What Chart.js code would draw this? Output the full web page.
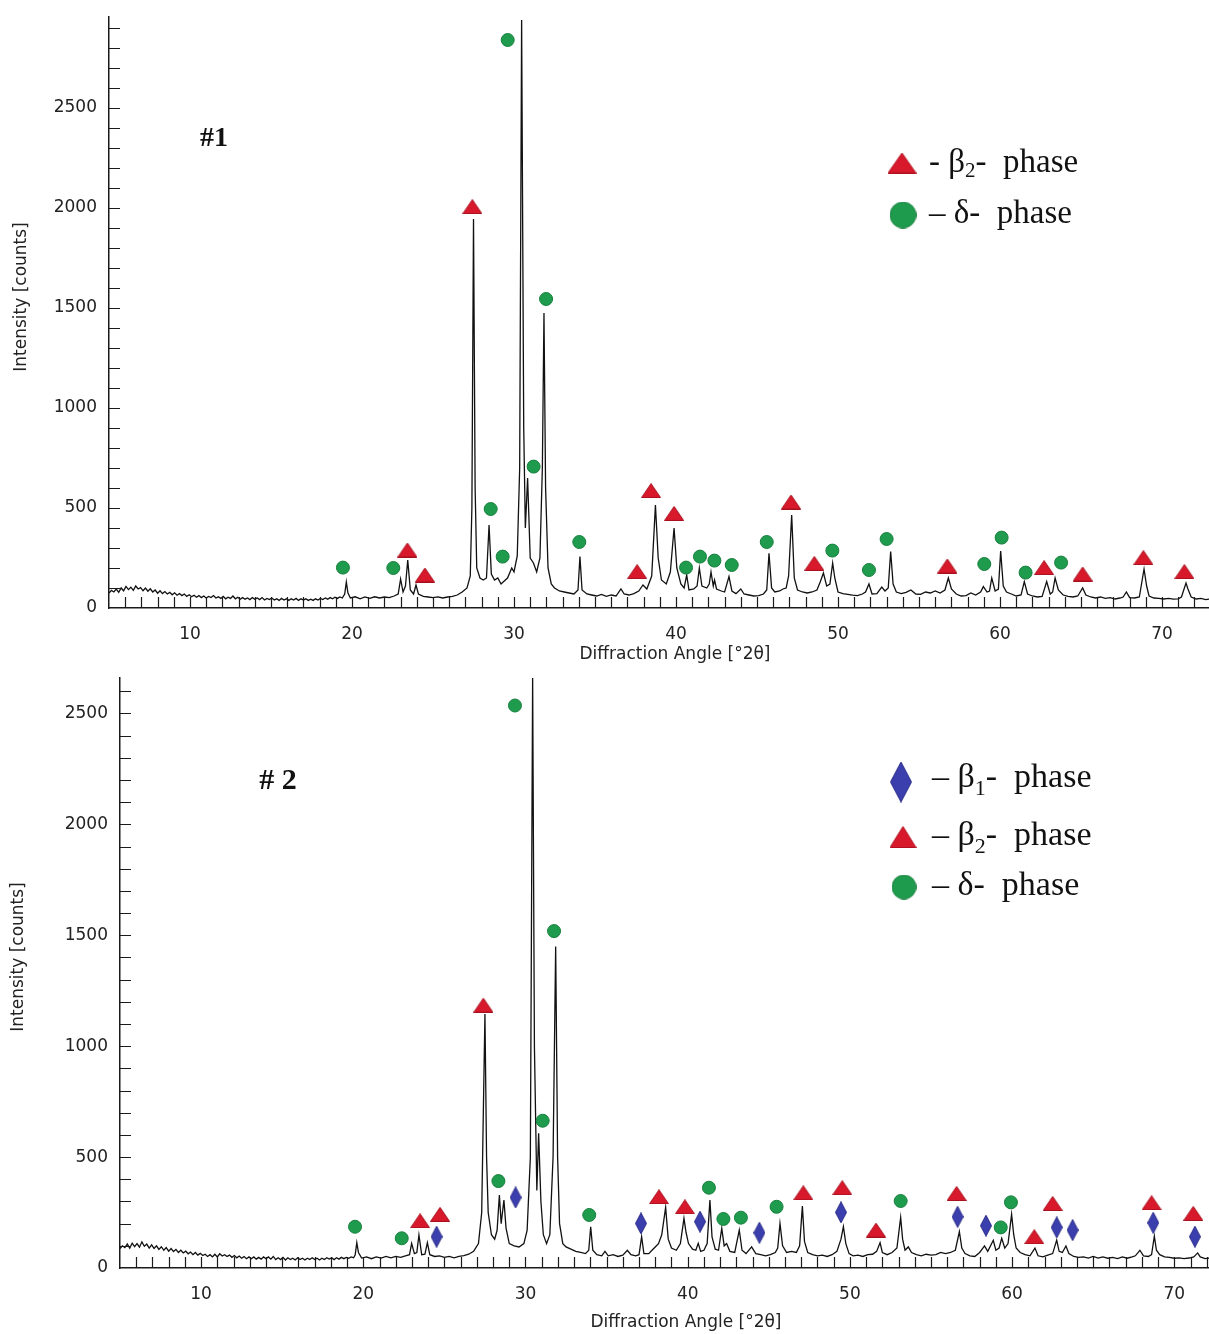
<!DOCTYPE html>
<html>
<head>
<meta charset="utf-8">
<script src="https://cdn.jsdelivr.net/npm/chart.js@4.4.1/dist/chart.umd.min.js"></script>
<style>
  body { margin: 0; background: #fff; }
  canvas { display: block; }
</style>
</head>
<body>
<canvas id="xrd1" width="1209" height="667" style="width:1209px;height:667px"></canvas>
<canvas id="xrd2" width="1209" height="667" style="width:1209px;height:667px"></canvas>
<script>
// ---- data ----
var xTickLabels = [10, 20, 30, 40, 50, 60, 70];
var yTickLabels = [0, 500, 1000, 1500, 2000, 2500];
var xTitle = 'Diffraction Angle [°2θ]';
var yTitle = 'Intensity [counts]';

// sample #1 pattern
var angle1 = [
  5.0, 5.15, 5.3, 5.45, 5.6, 5.75, 5.9, 6.05, 6.2, 6.35,
  6.5, 6.65, 6.8, 6.95, 7.1, 7.25, 7.4, 7.55, 7.7, 7.85,
  8.0, 8.15, 8.3, 8.45, 8.6, 8.75, 8.9, 9.05, 9.2, 9.35,
  9.5, 9.65, 9.8, 9.95, 10.1, 10.25, 10.4, 10.55, 10.7, 10.85,
  11.0, 11.15, 11.3, 11.45, 11.6, 11.75, 11.9, 12.05, 12.2, 12.35,
  12.5, 12.65, 12.8, 12.95, 13.1, 13.25, 13.4, 13.55, 13.7, 13.85,
  14.0, 14.15, 14.3, 14.45, 14.6, 14.75, 14.9, 15.05, 15.2, 15.35,
  15.5, 15.65, 15.8, 15.95, 16.1, 16.25, 16.4, 16.55, 16.7, 16.85,
  17.0, 17.15, 17.3, 17.45, 17.6, 17.75, 17.9, 18.05, 18.2, 18.35,
  18.5, 18.65, 18.8, 18.95, 19.1, 19.25, 19.4, 19.55,
  19.65, 19.75, 19.9, 20.2, 20.5, 20.8, 21.1, 21.4, 21.7, 22.0,
  22.3, 22.6, 22.85, 23.0, 23.15, 23.3, 23.44, 23.6, 23.8, 23.95,
  24.1, 24.4, 24.7, 25.0, 25.3, 25.6, 25.9, 26.2, 26.5, 26.8,
  27.1, 27.3, 27.4, 27.5, 27.6, 27.7, 27.9, 28.1, 28.3, 28.46,
  28.6, 28.8, 29.0, 29.2, 29.4, 29.6, 29.86, 30.0, 30.2, 30.35,
  30.47, 30.6, 30.7, 30.84, 31.0, 31.2, 31.4, 31.6, 31.75, 31.85,
  31.95, 32.1, 32.3, 32.5, 32.8, 33.1, 33.4, 33.7, 33.95, 34.07,
  34.2, 34.5, 34.8, 35.1, 35.4, 35.7, 36.0, 36.3, 36.6, 36.8,
  37.1, 37.4, 37.7, 37.96, 38.2, 38.5, 38.73, 38.9, 39.1, 39.4,
  39.65, 39.88, 40.05, 40.3, 40.5, 40.66, 40.8, 41.1, 41.3, 41.44,
  41.6, 41.9, 42.05, 42.16, 42.3, 42.38, 42.5, 42.8, 43.0, 43.27,
  43.45, 43.7, 44.0, 44.2, 44.5, 44.8, 45.1, 45.4, 45.6, 45.74,
  45.9, 46.1, 46.4, 46.6, 46.8, 46.95, 47.14, 47.3, 47.5, 47.8,
  48.1, 48.4, 48.7, 48.9, 49.1, 49.3, 49.5, 49.67, 49.8, 50.0,
  50.3, 50.6, 50.9, 51.2, 51.5, 51.7, 51.91, 52.1, 52.4, 52.7,
  52.9, 53.1, 53.25, 53.4, 53.6, 53.9, 54.2, 54.5, 54.8, 55.1,
  55.4, 55.7, 56.0, 56.3, 56.6, 56.81, 57.0, 57.3, 57.6, 57.9,
  58.2, 58.5, 58.8, 58.97, 59.2, 59.35, 59.49, 59.7, 59.9, 60.04,
  60.2, 60.4, 60.7, 61.0, 61.3, 61.5, 61.7, 62.0, 62.3, 62.6,
  62.88, 63.1, 63.25, 63.4, 63.6, 63.9, 64.2, 64.5, 64.8, 65.1,
  65.3, 65.6, 65.9, 66.2, 66.5, 66.8, 67.1, 67.4, 67.6, 67.8,
  68.0, 68.3, 68.6, 68.89, 69.05, 69.2, 69.5, 69.8, 70.1, 70.4,
  70.7, 71.0, 71.2, 71.48, 71.6, 71.8, 72.1, 72.4, 72.7, 73.0
];
var counts1 = [
  75, 88, 80, 95, 78, 100, 86, 108, 92, 104,
  88, 110, 95, 102, 86, 100, 84, 96, 80, 90,
  74, 86, 72, 82, 70, 78, 66, 76, 64, 72,
  62, 70, 58, 66, 56, 64, 54, 62, 52, 60,
  50, 58, 52, 62, 50, 56, 48, 58, 46, 54,
  48, 60, 46, 54, 44, 52, 44, 50, 42, 52,
  44, 50, 42, 52, 40, 48, 42, 50, 40, 46,
  38, 48, 40, 46, 38, 46, 40, 48, 38, 46,
  40, 46, 38, 44, 38, 46, 40, 48, 42, 50,
  44, 52, 46, 54, 48, 55, 50, 70,
  130, 75, 50, 56, 46, 55, 48, 56, 50, 55,
  52, 60, 70, 145, 80, 110, 240, 90, 70, 115,
  70, 58, 55, 52, 56, 50, 55, 58, 65, 80,
  100, 160, 500, 1945, 600, 200, 150, 140, 150, 415,
  170, 140, 150, 120, 135, 150, 200, 180, 260, 700,
  2940, 900, 400, 650, 250, 225, 180, 250, 700, 1475,
  600, 200, 120, 100, 85, 80, 75, 70, 90, 257,
  90, 70, 65, 60, 68, 58, 65, 60, 95, 70,
  65, 72, 85, 115, 95, 160, 515, 250, 140, 120,
  180, 400, 200, 120, 100, 165, 90, 95, 110, 200,
  110, 100, 120, 180, 110, 140, 95, 85, 80, 157,
  85, 72, 95, 70, 65, 60, 62, 70, 90, 273,
  100, 80, 85, 95, 100, 160, 465, 150, 90, 80,
  75, 80, 90, 130, 175, 110, 120, 225, 150, 80,
  72, 68, 64, 62, 70, 80, 120, 70, 72, 105,
  85, 100, 282, 120, 80, 72, 78, 90, 70, 68,
  80, 75, 85, 75, 90, 150, 95, 70, 60, 62,
  75, 65, 80, 107, 80, 85, 150, 85, 95, 285,
  110, 80, 70, 60, 65, 132, 70, 60, 55, 58,
  132, 70, 80, 150, 90, 65, 58, 55, 60, 100,
  65, 55, 50, 55, 48, 52, 45, 50, 55, 80,
  52, 50, 55, 195, 110, 60, 50, 48, 45, 48,
  44, 46, 55, 125, 95, 55, 45, 48, 42, 45
];
var delta1Angle = [19.44, 22.55, 28.56, 29.3, 29.61, 31.21, 31.98, 34.03, 40.62, 41.48, 42.37, 43.44, 45.6, 49.65, 51.91, 53.0, 59.03, 60.1, 61.58, 63.77];
var delta1Counts = [202, 200, 495, 257, 2840, 707, 1545, 330, 202, 257, 237, 215, 330, 287, 190, 345, 220, 352, 177, 227];
var beta2s1Angle = [23.42, 24.5, 27.43, 37.6, 38.46, 39.88, 47.1, 48.54, 56.75, 62.72, 65.1, 68.85, 71.38];
var beta2s1Counts = [290, 165, 2007, 182, 587, 473, 530, 223, 210, 202, 170, 252, 182];

// sample #2 pattern
var angle2 = [
  5.0, 5.15, 5.3, 5.45, 5.6, 5.75, 5.9, 6.05, 6.2, 6.35,
  6.5, 6.65, 6.8, 6.95, 7.1, 7.25, 7.4, 7.55, 7.7, 7.85,
  8.0, 8.15, 8.3, 8.45, 8.6, 8.75, 8.9, 9.05, 9.2, 9.35,
  9.5, 9.65, 9.8, 9.95, 10.1, 10.25, 10.4, 10.55, 10.7, 10.85,
  11.0, 11.15, 11.3, 11.45, 11.6, 11.75, 11.9, 12.05, 12.2, 12.35,
  12.5, 12.65, 12.8, 12.95, 13.1, 13.25, 13.4, 13.55, 13.7, 13.85,
  14.0, 14.15, 14.3, 14.45, 14.6, 14.75, 14.9, 15.05, 15.2, 15.35,
  15.5, 15.65, 15.8, 15.95, 16.1, 16.25, 16.4, 16.55, 16.7, 16.85,
  17.0, 17.15, 17.3, 17.45, 17.6, 17.75, 17.9, 18.05, 18.2, 18.35,
  18.5, 18.65, 18.8, 18.95, 19.1, 19.25, 19.4, 19.5,
  19.6, 19.7, 19.9, 20.2, 20.5, 20.8, 21.1, 21.4, 21.7, 22.0,
  22.3, 22.6, 22.85, 22.98, 23.15, 23.3, 23.43, 23.6, 23.8, 23.95,
  24.1, 24.4, 24.7, 25.0, 25.3, 25.6, 25.9, 26.2, 26.5, 26.8,
  27.1, 27.3, 27.4, 27.5, 27.6, 27.7, 27.9, 28.1, 28.25, 28.39,
  28.5, 28.67, 28.8, 29.0, 29.3, 29.6, 29.9, 30.1, 30.3, 30.44,
  30.55, 30.7, 30.81, 30.95, 31.1, 31.3, 31.5, 31.7, 31.86, 31.98,
  32.1, 32.3, 32.5, 32.8, 33.1, 33.4, 33.7, 33.9, 34.02, 34.15,
  34.4, 34.7, 34.9, 35.1, 35.4, 35.7, 36.0, 36.28, 36.5, 36.8,
  37.0, 37.16, 37.3, 37.6, 37.8, 38.0, 38.2, 38.4, 38.64, 38.8,
  39.0, 39.3, 39.55, 39.77, 39.9, 40.05, 40.3, 40.5, 40.65, 40.8,
  41.0, 41.2, 41.37, 41.5, 41.7, 41.9, 42.1, 42.25, 42.4, 42.6,
  42.9, 43.18, 43.35, 43.6, 43.94, 44.2, 44.5, 44.8, 45.1, 45.4,
  45.55, 45.69, 45.85, 46.1, 46.4, 46.7, 46.9, 47.07, 47.2, 47.4,
  47.7, 48.0, 48.3, 48.6, 48.9, 49.2, 49.45, 49.6, 49.75, 49.95,
  50.2, 50.5, 50.8, 51.1, 51.4, 51.65, 51.86, 52.0, 52.3, 52.6,
  52.9, 53.13, 53.25, 53.4, 53.6, 53.8, 54.1, 54.4, 54.7, 55.0,
  55.3, 55.6, 55.9, 56.2, 56.5, 56.75, 56.9, 57.1, 57.4, 57.7,
  58.0, 58.3, 58.5, 58.84, 59.0, 59.2, 59.36, 59.55, 59.75, 59.97,
  60.1, 60.25, 60.5, 60.8, 61.1, 61.41, 61.6, 61.9, 62.2, 62.5,
  62.75, 62.9, 63.1, 63.32, 63.5, 63.8, 64.1, 64.4, 64.7, 65.0,
  65.3, 65.6, 65.9, 66.2, 66.5, 66.8, 67.1, 67.4, 67.6, 67.88,
  68.1, 68.4, 68.6, 68.77, 68.9, 69.1, 69.4, 69.7, 70.0, 70.3,
  70.6, 70.9, 71.2, 71.44, 71.6, 71.9, 72.2, 72.5
];
var counts2 = [
  88, 100, 92, 108, 90, 112, 96, 110, 94, 118,
  98, 108, 90, 104, 88, 100, 84, 96, 80, 92,
  76, 88, 74, 84, 70, 80, 68, 76, 64, 72,
  60, 70, 58, 66, 56, 62, 52, 60, 50, 62,
  50, 64, 54, 60, 52, 58, 48, 56, 46, 54,
  44, 52, 42, 50, 42, 50, 40, 48, 40, 50,
  42, 50, 40, 52, 38, 46, 38, 48, 36, 46,
  38, 44, 36, 46, 38, 44, 36, 44, 38, 46,
  38, 44, 36, 44, 38, 46, 40, 46, 38, 46,
  40, 48, 42, 48, 44, 50, 46, 60,
  114, 70, 45, 50, 42, 50, 45, 52, 46, 52,
  48, 55, 60, 111, 65, 70, 149, 60, 62, 114,
  60, 52, 55, 48, 52, 46, 52, 56, 62, 75,
  110, 250, 700, 1145, 500, 250, 150, 130, 170, 329,
  200, 306, 180, 110, 100, 95, 110, 170, 500, 2660,
  1000, 350, 607, 300, 150, 110, 150, 500, 1450, 500,
  200, 110, 95, 85, 75, 70, 65, 80, 186, 80,
  60, 55, 75, 55, 60, 52, 58, 80, 60, 55,
  60, 141, 65, 65, 80, 95, 110, 150, 273, 130,
  90, 80, 110, 224, 160, 110, 85, 80, 111, 75,
  80, 110, 306, 140, 85, 80, 179, 100, 110, 75,
  70, 171, 80, 65, 95, 65, 60, 55, 60, 70,
  90, 201, 100, 70, 75, 70, 100, 279, 120, 70,
  60, 55, 58, 52, 60, 75, 130, 186, 110, 65,
  55, 58, 52, 60, 62, 75, 114, 70, 60, 70,
  90, 228, 130, 80, 95, 70, 60, 55, 62, 58,
  60, 70, 65, 70, 80, 164, 90, 65, 55, 52,
  70, 100, 75, 125, 80, 90, 134, 90, 110, 242,
  150, 90, 70, 60, 55, 90, 55, 50, 58, 65,
  126, 75, 70, 99, 65, 52, 48, 50, 45, 52,
  45, 50, 44, 48, 42, 50, 44, 50, 55, 80,
  55, 52, 60, 144, 80, 60, 50, 48, 44, 46,
  42, 45, 50, 68, 50, 42, 45, 40
];
var delta2Angle = [19.49, 22.37, 28.33, 29.35, 31.06, 31.76, 33.93, 41.31, 42.2, 43.28, 45.48, 53.13, 59.3, 59.93];
var delta2Counts = [186, 134, 392, 2536, 664, 1519, 239, 362, 221, 227, 276, 302, 183, 296];
var beta2s2Angle = [23.5, 24.73, 27.4, 38.23, 39.83, 47.13, 49.53, 51.61, 56.58, 61.37, 62.5, 68.6, 71.17];
var beta2s2Counts = [213, 242, 1185, 321, 276, 339, 362, 171, 336, 141, 291, 294, 246];
var beta1s2Angle = [24.52, 29.39, 37.12, 40.76, 44.42, 49.45, 56.64, 58.39, 62.75, 63.73, 68.7, 71.27];
var beta1s2Counts = [141, 318, 201, 209, 159, 251, 231, 191, 183, 171, 204, 141];

// ---- colours / marker shapes ----
var RED = '#d8192c', GREEN = '#1f9b4d', BLUE = '#3b3fae';

function pts(xs, ys) {
  return xs.map(function (x, i) { return { x: x, y: ys[i] }; });
}

function marker(kind, w, h, fill, edge) {
  var c = document.createElement('canvas');
  c.width = w; c.height = h;
  var g = c.getContext('2d');
  g.fillStyle = fill;
  g.strokeStyle = edge;
  g.lineWidth = 1;
  g.beginPath();
  if (kind == 'tri') {
    g.moveTo(w / 2, 0.5); g.lineTo(w - 0.5, h - 0.5); g.lineTo(0.5, h - 0.5);
  } else if (kind == 'dia') {
    g.moveTo(w / 2, 0.5); g.lineTo(w - 0.5, h / 2); g.lineTo(w / 2, h - 0.5); g.lineTo(0.5, h / 2);
  } else {
    g.arc(w / 2, h / 2, w / 2 - 0.5, 0, Math.PI * 2);
  }
  g.closePath();
  g.fill();
  g.stroke();
  return c;
}

var triSmall = marker('tri', 20, 15, RED, '#a8101e');
var diaSmall = marker('dia', 12, 22, BLUE, '#2a2d88');

// inside tick marks, axis titles, legend and sample tag
var decor = {
  id: 'decor',
  afterDraw: function (chart, args, o) {
    var ctx = chart.ctx, ca = chart.chartArea;
    var xs = chart.scales.x, ys = chart.scales.y;
    ctx.save();
    ctx.strokeStyle = '#1a1a1a';
    ctx.lineWidth = 1.2;
    ctx.beginPath();
    for (var v = 100; v <= ys.max; v += 100) {
      var py = Math.round(ys.getPixelForValue(v)) + 0.5;
      ctx.moveTo(ca.left, py);
      ctx.lineTo(ca.left + 11, py);
    }
    for (var a = 6; a <= xs.max; a += 1) {
      var px = Math.round(xs.getPixelForValue(a)) + 0.5;
      ctx.moveTo(px, ca.bottom);
      ctx.lineTo(px, ca.bottom - 11);
    }
    ctx.stroke();

    // axis titles
    ctx.fillStyle = '#222';
    ctx.font = '17px "DejaVu Sans"';
    ctx.textAlign = 'center';
    ctx.textBaseline = 'middle';
    ctx.fillText(xTitle, o.xTitleX, o.xTitleY);
    ctx.save();
    ctx.translate(o.yTitleX, o.yTitleY);
    ctx.rotate(-Math.PI / 2);
    ctx.fillText(yTitle, 0, 0);
    ctx.restore();

    ctx.fillStyle = '#111';
    ctx.font = 'bold ' + o.tagSize + 'px "Liberation Serif"';
    ctx.fillText(o.tag, o.tagX, o.tagY);

    ctx.textAlign = 'left';
    ctx.textBaseline = 'alphabetic';
    o.legend.forEach(function (row) {
      ctx.drawImage(row.img, row.mx - row.img.width / 2, row.my - row.img.height / 2);
      var x = o.legendX;
      ctx.font = o.legendSize + 'px "Liberation Serif"';
      ctx.fillText(row.head, x, row.base);
      x += ctx.measureText(row.head).width;
      if (row.sub) {
        ctx.font = Math.round(o.legendSize * 0.64) + 'px "Liberation Serif"';
        ctx.fillText(row.sub, x, row.base + o.subDrop);
        x += ctx.measureText(row.sub).width;
        ctx.font = o.legendSize + 'px "Liberation Serif"';
      }
      ctx.fillText(row.tail, x, row.base);
    });
    ctx.restore();
  }
};

function plain(v) { return String(v); }

function panel(id, p) {
  var sets = [{
    data: pts(p.angle, p.counts),
    showLine: true,
    borderColor: '#111',
    borderWidth: 1.3,
    pointRadius: 0,
    tension: 0,
    order: 1
  }];
  p.markers.forEach(function (m) {
    sets.push({
      data: pts(m.angle, m.counts),
      showLine: false,
      pointStyle: m.style,
      pointRadius: m.r,
      backgroundColor: m.fill,
      borderColor: m.edge,
      borderWidth: 1,
      order: 0
    });
  });

  return new Chart(document.getElementById(id), {
    type: 'scatter',
    data: { datasets: sets },
    options: {
      responsive: false,
      animation: false,
      events: [],
      layout: { autoPadding: false, padding: { top: p.top, right: 0, bottom: 0, left: 0 } },
      plugins: {
        legend: { display: false },
        tooltip: { enabled: false },
        decor: p.decor
      },
      scales: {
        x: {
          type: 'linear',
          min: 5,
          max: p.xMax,
          afterFit: function (s) { s.height = p.xAxisH; s.paddingLeft = 0; s.paddingRight = 0; },
          afterBuildTicks: function (s) { s.ticks = xTickLabels.map(function (v) { return { value: v }; }); },
          grid: { display: false, drawTicks: false },
          border: { display: true, color: '#1a1a1a', width: 1.5 },
          ticks: { color: '#222', font: { family: 'DejaVu Sans', size: 17 }, padding: 16, maxRotation: 0, autoSkip: false, callback: plain }
        },
        y: {
          type: 'linear',
          min: 0,
          max: p.yMax,
          afterFit: function (s) { s.width = p.yAxisW; s.paddingTop = 0; s.paddingBottom = 0; },
          afterBuildTicks: function (s) { s.ticks = yTickLabels.map(function (v) { return { value: v }; }); },
          grid: { display: false, drawTicks: false },
          border: { display: true, color: '#1a1a1a', width: 1.5 },
          ticks: { color: '#222', font: { family: 'DejaVu Sans', size: 17 }, padding: 12, callback: plain }
        }
      }
    },
    plugins: [decor]
  });
}

panel('xrd1', {
  angle: angle1, counts: counts1,
  top: 17, xAxisH: 59, yAxisW: 109, xMax: 72.9, yMax: 2955,
  markers: [
    { angle: beta2s1Angle, counts: beta2s1Counts, style: triSmall, r: 9, fill: RED, edge: RED },
    { angle: delta1Angle, counts: delta1Counts, style: 'circle', r: 6.5, fill: GREEN, edge: '#17803e' }
  ],
  decor: {
    xTitleX: 675, xTitleY: 655, yTitleX: 22, yTitleY: 297,
    tag: '#1', tagSize: 28, tagX: 214, tagY: 139,
    legendX: 929, legendSize: 33, subDrop: 5,
    legend: [
      { img: marker('tri', 29, 21, RED, '#b0101f'), mx: 902, my: 163, head: '- β', sub: '2', tail: '-  phase', base: 172 },
      { img: marker('dot', 27, 27, GREEN, '#17803e'), mx: 903, my: 215, head: '– δ', sub: '', tail: '-  phase', base: 223 }
    ]
  }
});

panel('xrd2', {
  angle: angle2, counts: counts2,
  top: 11, xAxisH: 66, yAxisW: 120, xMax: 72.14, yMax: 2660,
  markers: [
    { angle: beta1s2Angle, counts: beta1s2Counts, style: diaSmall, r: 9, fill: BLUE, edge: BLUE },
    { angle: beta2s2Angle, counts: beta2s2Counts, style: triSmall, r: 9, fill: RED, edge: RED },
    { angle: delta2Angle, counts: delta2Counts, style: 'circle', r: 6.5, fill: GREEN, edge: '#17803e' }
  ],
  decor: {
    xTitleX: 686, xTitleY: 656, yTitleX: 19, yTitleY: 290,
    tag: '# 2', tagSize: 30, tagX: 278, tagY: 114,
    legendX: 932, legendSize: 34, subDrop: 8,
    legend: [
      { img: marker('dia', 22, 41, BLUE, '#2a2d88'), mx: 901, my: 115, head: '– β', sub: '1', tail: '-  phase', base: 120 },
      { img: marker('tri', 27, 22, RED, '#b0101f'), mx: 903, my: 170, head: '– β', sub: '2', tail: '-  phase', base: 178 },
      { img: marker('dot', 25, 25, GREEN, '#17803e'), mx: 904, my: 220, head: '– δ', sub: '', tail: '-  phase', base: 228 }
    ]
  }
});
</script>
</body>
</html>
